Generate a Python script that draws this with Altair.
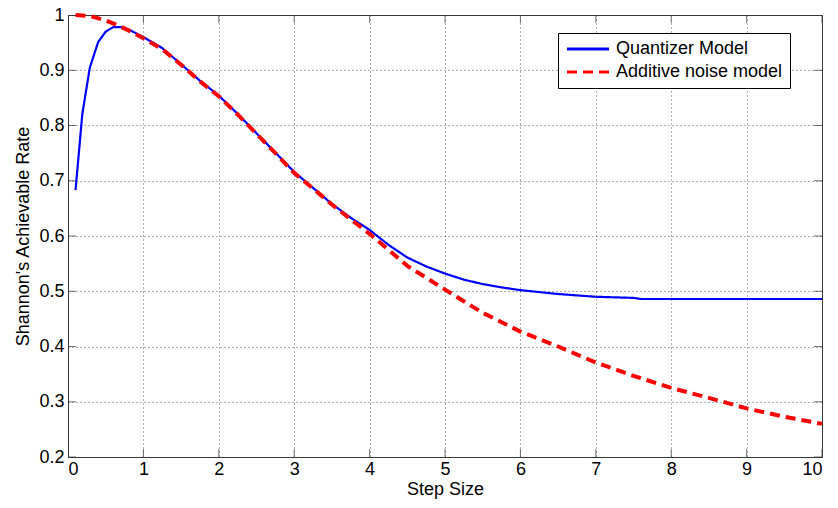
import altair as alt
import pandas as pd

# ---- data ----
series = ["Quantizer Model", "Additive noise model"]

quant_x = [0.1, 0.19, 0.29, 0.4, 0.5, 0.6, 0.7, 0.8, 1.0, 1.25, 1.5, 1.75, 2.0, 2.25,
           2.5, 2.75, 3.0, 3.25, 3.5, 3.75, 4.0, 4.25, 4.5, 4.75, 5.0, 5.25, 5.5, 5.75,
           6.0, 6.5, 7.0, 7.5, 7.6, 8.0, 9.0, 10.0]
quant_y = [0.683, 0.821, 0.905, 0.951, 0.970, 0.978, 0.978, 0.974, 0.960, 0.940, 0.911,
           0.881, 0.854, 0.821, 0.786, 0.751, 0.716, 0.687, 0.658, 0.633, 0.611, 0.584,
           0.561, 0.545, 0.532, 0.521, 0.513, 0.507, 0.502, 0.495, 0.490, 0.488, 0.486,
           0.486, 0.486, 0.486]

add_x = [0.1, 0.3, 0.5, 0.65, 0.85, 1.0, 1.25, 1.5, 1.75, 2.0, 2.25, 2.5, 2.75, 3.0,
         3.25, 3.5, 3.75, 4.0, 4.5, 5.0, 5.5, 6.0, 6.5, 7.0, 7.5, 8.0, 8.5, 9.0, 9.5, 10.0]
add_y = [1.0, 0.998, 0.99, 0.982, 0.969, 0.958, 0.938, 0.910, 0.880, 0.853, 0.820, 0.785,
         0.750, 0.714, 0.686, 0.657, 0.630, 0.604, 0.546, 0.503, 0.461, 0.427, 0.400,
         0.371, 0.347, 0.325, 0.307, 0.288, 0.273, 0.260]

x_ticks = [0, 1, 2, 3, 4, 5, 6, 7, 8, 9, 10]
y_ticks = [0.2, 0.3, 0.4, 0.5, 0.6, 0.7, 0.8, 0.9, 1.0]
x_range = [0, 10]
y_range = [0.2, 1.0]

FONT = "Liberation Sans"
FRAME = "#3a3a3a"

df_q = pd.DataFrame({"step": quant_x, "rate": quant_y, "model": series[0]})
df_a = pd.DataFrame({"step": add_x, "rate": add_y, "model": series[1]})

# tick marks (drawn inward, on all four sides, like MATLAB)
xt_df = pd.DataFrame({"step": x_ticks * 2,
                      "rate": [y_range[0]] * len(x_ticks) + [y_range[1]] * len(x_ticks)})
yt_df = pd.DataFrame({"step": [x_range[0]] * len(y_ticks) + [x_range[1]] * len(y_ticks),
                      "rate": y_ticks * 2})

xs = alt.Scale(domain=x_range, nice=False, zero=False)
ys = alt.Scale(domain=y_range, nice=False, zero=False)

x_axis = alt.Axis(title="Step Size", values=x_ticks, format="d", tickSize=0,
                  domain=False, labelPadding=3, titlePadding=2)
y_axis = alt.Axis(title="Shannon's Achievable Rate", values=y_ticks, format="~g",
                  tickSize=0, domain=False, labelPadding=4, titlePadding=6)

X = alt.X("step:Q", scale=xs, axis=x_axis)
Y = alt.Y("rate:Q", scale=ys, axis=y_axis)

leg = alt.Legend(title=None, orient="none", legendX=490, legendY=18)
color = alt.Color("model:N", scale=alt.Scale(domain=series, range=["#0000ff", "#ff0000"]),
                  legend=leg)
dash = alt.StrokeDash("model:N", scale=alt.Scale(domain=series, range=[[1, 0], [10, 6]]),
                      legend=leg)

blue = alt.Chart(df_q).mark_line(strokeWidth=2.2).encode(x=X, y=Y, color=color, strokeDash=dash)
red = alt.Chart(df_a).mark_line(strokeWidth=4).encode(x=X, y=Y, color=color, strokeDash=dash)

xticks = alt.Chart(xt_df).mark_tick(orient="vertical", size=16, thickness=1,
                                    color=FRAME, clip=True).encode(x=X, y=Y)
yticks = alt.Chart(yt_df).mark_tick(orient="horizontal", size=16, thickness=1,
                                    color=FRAME, clip=True).encode(x=X, y=Y)

chart = alt.layer(xticks, yticks, blue, red).properties(
    width=754, height=442,
    autosize=alt.AutoSizeParams(type="none"),
    padding={"left": 60, "top": 7, "right": 6, "bottom": 43},
).configure_view(
    stroke=FRAME, strokeWidth=1
).configure_axis(
    labelFont=FONT, labelFontSize=18, labelColor="#000",
    titleFont=FONT, titleFontSize=18, titleFontWeight="normal", titleColor="#000",
    grid=True, gridColor="#333", gridDash=[1, 3], gridOpacity=0.8, gridWidth=1,
).configure_legend(
    labelFont=FONT, labelFontSize=18, labelColor="#000", labelLimit=0,
    fillColor="white", strokeColor="#000", padding=7, cornerRadius=0,
    symbolType="M-1,0H5", symbolSize=196, symbolStrokeWidth=3, labelOffset=33,
    rowPadding=5,
)

chart.save("out.html", embed_options={"renderer": "svg", "actions": False})
